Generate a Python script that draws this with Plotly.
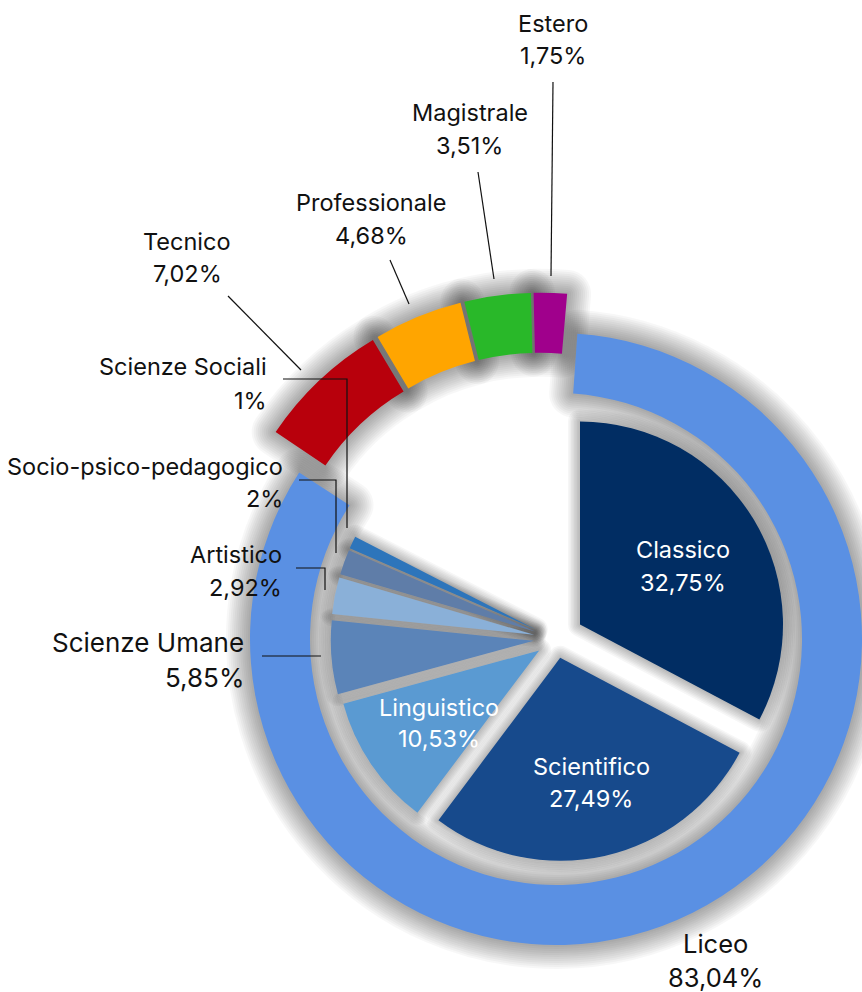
import plotly.graph_objects as go

# ---------------- data ----------------
outer_labels = ["Liceo", "Tecnico", "Professionale", "Magistrale", "Estero"]
outer_values = [83.04, 7.02, 4.68, 3.51, 1.75]

inner_labels = ["Classico", "Scientifico", "Linguistico", "Scienze Umane",
                "Artistico", "Socio-psico-pedagogico", "Scienze Sociali"]
inner_values = [32.75, 27.49, 10.53, 5.85, 2.92, 2, 1]

# ---------------- styles ----------------
outer_colors = ["#5A90E3", "#B8000C", "#FFA500", "#29B829", "#A0008C"]
inner_colors = ["#012D63", "#174A8C", "#5A9AD2", "#5B84B8", "#8AB0D8", "#5F7DA8", "#2D75BB"]
inner_pull = [0.138, 0.095, 0.1, 0.11, 0.11, 0.11, 0.11]
CLEAR = "rgba(0,0,0,0)"
FONT = "Inter"

W, H = 862, 992
CX, CY = 556, 639          # centre of the ring (px)
R_OUT, R_IN = 306, 246      # ring radii (px)
R_PIE = 203                 # inner pie radius (px)
BX, BY, BP = 540, 614, 0.05  # detached segments: centre and pull

RING_SHADOW = [(w, 0.032) for w in range(48, 0, -4)]
PIE_SHADOW = [(w, 0.036) for w in range(24, 0, -3)]


def pct(v):
    s = f"{v:.2f}".rstrip("0").rstrip(".")
    return s.replace(".", ",") + "%"


def dom(cx, cy, half):
    return dict(x=[max(0, (cx - half) / W), min(1, (cx + half) / W)],
                y=[max(0, 1 - (cy + half) / H), min(1, 1 - (cy - half) / H)])


def P(x, y):
    return x / W, 1 - y / H


fig = go.Figure()
common = dict(sort=False, direction="clockwise", textinfo="none",
              hoverinfo="skip", showlegend=False)

inner_total = sum(inner_values)
inner_all = inner_values + [100 - inner_total]

ring_geo = dict(values=outer_values, labels=outer_labels, rotation=4,
                hole=R_IN / R_OUT, domain=dom(CX, CY, R_OUT))
seg_geo = dict(values=outer_values, labels=outer_labels, rotation=5,
               hole=R_IN / R_OUT, pull=[0] + [BP] * 4,
               domain=dom(BX, BY, R_OUT * (1 + BP)))
pie_geo = dict(values=inner_all, labels=inner_labels + [""], rotation=0,
               pull=inner_pull + [0],
               domain=dom(CX, CY, R_PIE * (1 + max(inner_pull))))

ring_mask = [True, False, False, False, False]
seg_mask = [False, True, True, True, True]
pie_mask = [True] * len(inner_values) + [False]


def add_shadow(geo, mask, layers):
    for w, a in layers:
        fig.add_trace(go.Pie(
            marker=dict(colors=[CLEAR] * len(mask),
                        line=dict(color=[f"rgba(0,0,0,{a})" if m else CLEAR for m in mask],
                                  width=[w if m else 0 for m in mask])),
            **geo, **common))


# soft shadows (blurred look)
add_shadow(ring_geo, ring_mask, RING_SHADOW)
add_shadow(seg_geo, seg_mask, RING_SHADOW)
add_shadow(pie_geo, pie_mask, PIE_SHADOW)

# outer ring, Liceo part
fig.add_trace(go.Pie(marker=dict(colors=[c if m else CLEAR for c, m in zip(outer_colors, ring_mask)],
                                 line=dict(width=0)), **ring_geo, **common))
# outer ring, other schools (detached)
fig.add_trace(go.Pie(marker=dict(colors=[c if m else CLEAR for c, m in zip(outer_colors, seg_mask)],
                                 line=dict(width=0)),
                     **seg_geo, **common))
# inner pie (Liceo breakdown)
fig.add_trace(go.Pie(marker=dict(colors=inner_colors + [CLEAR], line=dict(width=0)),
                     **pie_geo, **common))

# ---------------- labels ----------------
ann = []


def label(name, value, x, y1, y2, anchor="center", size=23.5, color="#111111"):
    for txt, yy in ((name, y1), (pct(value), y2)):
        ax, ay = P(x, yy)
        ann.append(dict(x=ax, y=ay, xref="paper", yref="paper", text=txt, showarrow=False,
                        xanchor=anchor, yanchor="middle",
                        font=dict(family=FONT, size=size, color=color)))


label(outer_labels[4], outer_values[4], 553, 24, 56)
label(outer_labels[3], outer_values[3], 470, 113, 145)
label(outer_labels[2], outer_values[2], 371, 203, 235)
label(outer_labels[1], outer_values[1], 187, 242, 274)
label(outer_labels[0], outer_values[0], 715, 943, 977, size=25.5)
label(inner_labels[6], inner_values[6], 269, 367, 400, anchor="right")
label(inner_labels[5], inner_values[5], 285, 467, 498, anchor="right")
label(inner_labels[4], inner_values[4], 284, 554, 587, anchor="right")
label(inner_labels[3], inner_values[3], 246, 642, 677, anchor="right", size=26)
label(inner_labels[0], inner_values[0], 683, 549, 582, color="white")
label(inner_labels[1], inner_values[1], 591, 766, 798, color="white")
label(inner_labels[2], inner_values[2], 439, 707, 738, color="white")

# ---------------- leader lines ----------------
leaders = [
    [(553, 82), (551, 276)],
    [(478, 172), (494, 279)],
    [(390, 260), (409, 304)],
    [(228, 296), (301, 370)],
    [(283, 379), (347, 379), (347, 528)],
    [(299, 480), (336, 480), (336, 553)],
    [(296, 568), (325, 568), (325, 590)],
    [(262, 656), (321, 656)],
]
shapes = []
for pts in leaders:
    path = "M " + " L ".join(f"{P(x, y)[0]:.5f},{P(x, y)[1]:.5f}" for x, y in pts)
    shapes.append(dict(type="path", path=path, xref="paper", yref="paper",
                       line=dict(color="#111111", width=1.2), layer="above"))

fig.update_layout(width=W, height=H, margin=dict(l=0, r=0, t=0, b=0),
                  paper_bgcolor="white", plot_bgcolor="white",
                  annotations=ann, shapes=shapes, showlegend=False)
fig.write_html("out.html", config={"displayModeBar": False},
               post_script="document.body.style.margin='0';document.body.style.overflow='hidden';")
